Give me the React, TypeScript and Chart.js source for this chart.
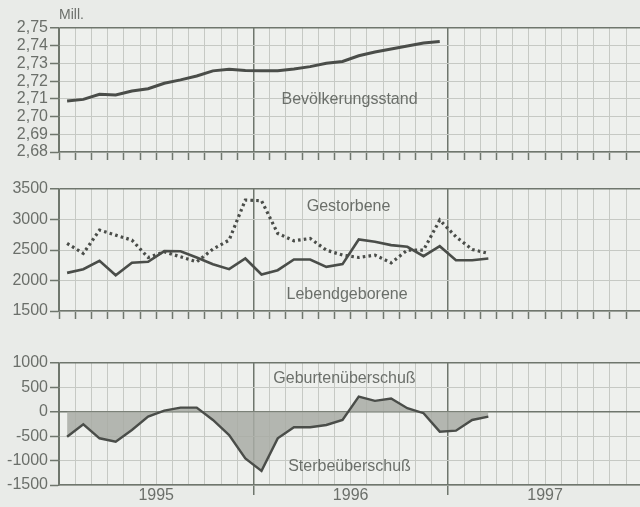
import { useEffect, useRef } from 'react';
import { Chart, registerables } from 'chart.js';

Chart.register(...registerables);

// ---- data ----
const years = ['1995', '1996', '1997'];
const monthsShown = 36; // Jan 1995 .. Dec 1997

// Bevölkerungsstand (Mill.), Jan 1995 - Dec 1996
const population = [
  2.7088, 2.7097, 2.7126, 2.7122, 2.7144, 2.7157, 2.7188, 2.7207, 2.7229, 2.7258, 2.7267, 2.726,
  2.7258, 2.7259, 2.7269, 2.7282, 2.7301, 2.7311, 2.7343, 2.7364, 2.7381, 2.7398, 2.7415, 2.7424,
];

// Lebendgeborene, Jan 1995 - Mar 1997
const births = [
  2125, 2186, 2322, 2087, 2290, 2306, 2481, 2480, 2377, 2268, 2186, 2361,
  2098, 2169, 2344, 2344, 2224, 2268, 2673, 2634, 2580, 2553, 2399, 2563,
  2333, 2333, 2361,
];

// Gestorbene, Jan 1995 - Mar 1997
const deaths = [
  2608, 2444, 2826, 2744, 2662, 2377, 2470, 2388, 2306, 2514, 2662, 3319,
  3308, 2772, 2651, 2690, 2498, 2416, 2377, 2416, 2290, 2498, 2498, 2991,
  2717, 2509, 2444,
];

// Geburten-/Sterbeüberschuß, Jan 1995 - Mar 1997
const surplus = [
  -510, -256, -543, -613, -372, -99, 24, 86, 86, -167, -476, -955,
  -1210, -544, -317, -317, -270, -167, 313, 224, 272, 74, -29, -407,
  -387, -167, -99,
];

const popTicks = [2.68, 2.69, 2.7, 2.71, 2.72, 2.73, 2.74, 2.75];
const vitalTicks = [1500, 2000, 2500, 3000, 3500];
const surplusTicks = [-1500, -1000, -500, 0, 500, 1000];

// ---- styling ----
const FONT = '"Liberation Sans", Arial, Helvetica, sans-serif';
const PAGE_BG = '#e9ebe8';
const PLOT_BG = '#eef0ed';
const TEXT = '#6b6f6a';
const FRAME = '#6f766d';
const GRID = '#c6c9c4';
const LINE = '#4a4d49';
const X_MAX = 35.86; // visible part of the 36-month axis

const toPoints = (arr: number[]) => arr.map((v, i) => ({ x: i + 0.5, y: v }));

type Label = { text: string; x: number; y: number };

const decorPlugin = (labels: Label[], unit?: string) => ({
  id: 'decor',
  beforeDraw(chart: any) {
    const { ctx, chartArea } = chart;
    ctx.save();
    ctx.fillStyle = PLOT_BG;
    ctx.fillRect(chartArea.left, chartArea.top, chartArea.right - chartArea.left, chartArea.bottom - chartArea.top);
    ctx.restore();
  },
  afterDatasetsDraw(chart: any) {
    const { ctx, chartArea, scales } = chart;
    ctx.save();
    ctx.fillStyle = TEXT;
    ctx.font = `16px ${FONT}`;
    ctx.textAlign = 'center';
    ctx.textBaseline = 'alphabetic';
    labels.forEach((l) => {
      ctx.fillText(l.text, scales.x.getPixelForValue(l.x), scales.y.getPixelForValue(l.y));
    });
    if (unit) {
      ctx.font = `14px ${FONT}`;
      ctx.textAlign = 'left';
      ctx.fillText(unit, chartArea.left, chartArea.top - 9);
    }
    ctx.restore();
  },
});

function makeOptions(cfg: {
  ticks: number[];
  fmt: (v: number) => string;
  padTop: number;
  xHeight: number;
  bottomPanel: boolean;
}) {
  const { ticks, fmt, padTop, xHeight, bottomPanel } = cfg;
  const ymin = ticks[0];
  const ymax = ticks[ticks.length - 1];
  const isYear = (v: number) => v === 12 || v === 24;
  const isDarkY = (v: number) => Math.abs(v - ymax) < 1e-9 || (bottomPanel && v === 0);
  return {
    responsive: false,
    animation: false,
    layout: { padding: { top: padTop, left: 0, right: 0, bottom: 0 } },
    plugins: { legend: { display: false }, tooltip: { enabled: false } },
    elements: { point: { radius: 0 }, line: { tension: 0 } },
    scales: {
      x: {
        type: 'linear',
        min: 0,
        max: X_MAX,
        afterBuildTicks: (s: any) => {
          s.ticks = Array.from({ length: monthsShown }, (_, i) => ({ value: i }));
        },
        afterFit: (s: any) => {
          s.height = xHeight;
        },
        border: { display: true, color: FRAME, width: 1.5 },
        grid: {
          color: (c: any) => (c.tick && (isYear(c.tick.value) || c.tick.value === 0) ? FRAME : GRID),
          lineWidth: (c: any) => (c.tick && isYear(c.tick.value) ? 1.5 : 1),
          tickColor: (c: any) =>
            bottomPanel ? (c.tick && isYear(c.tick.value) ? FRAME : 'rgba(0,0,0,0)') : FRAME,
          tickWidth: 1.5,
          tickLength: bottomPanel ? 10 : 8,
        },
        ticks: {
          autoSkip: false,
          maxRotation: 0,
          padding: bottomPanel ? -9 : 0,
          color: TEXT,
          font: { family: FONT, size: 16 },
          callback: (v: any) => {
            if (!bottomPanel) return '';
            const idx = [6, 18, 30].indexOf(v);
            return idx >= 0 ? years[idx] : '';
          },
        },
      },
      y: {
        type: 'linear',
        min: ymin,
        max: ymax,
        afterBuildTicks: (s: any) => {
          s.ticks = ticks.map((v) => ({ value: v }));
        },
        afterFit: (s: any) => {
          s.width = 59;
        },
        border: { display: true, color: FRAME, width: 1.5 },
        grid: {
          color: (c: any) => (c.tick && isDarkY(c.tick.value) ? FRAME : GRID),
          lineWidth: (c: any) => (c.tick && isDarkY(c.tick.value) ? 1.5 : 1),
          tickColor: FRAME,
          tickWidth: 1.5,
          tickLength: 9,
        },
        ticks: {
          autoSkip: false,
          padding: 2,
          color: TEXT,
          font: { family: FONT, size: 16 },
          callback: (v: any) => fmt(Number(v)),
        },
      },
    },
  } as any;
}

function Panel(props: { top: number; height: number; build: () => any }) {
  const ref = useRef<HTMLCanvasElement | null>(null);
  useEffect(() => {
    if (!ref.current) return;
    const chart = new Chart(ref.current, props.build());
    return () => chart.destroy();
  }, []);
  return (
    <canvas
      ref={ref}
      width={640}
      height={props.height}
      style={{ position: 'absolute', left: 0, top: props.top, width: 640, height: props.height }}
    />
  );
}

const buildPopulation = () => ({
  type: 'line',
  data: {
    datasets: [
      {
        data: toPoints(population),
        borderColor: LINE,
        borderWidth: 3,
        fill: false,
      },
    ],
  },
  options: makeOptions({
    ticks: popTicks,
    fmt: (v) => v.toFixed(2).replace('.', ','),
    padTop: 28,
    xHeight: 18,
    bottomPanel: false,
  }),
  plugins: [decorPlugin([{ text: 'Bevölkerungsstand', x: 17.93, y: 2.7071 }], 'Mill.')],
});

const buildVital = () => ({
  type: 'line',
  data: {
    datasets: [
      {
        data: toPoints(deaths),
        borderColor: LINE,
        borderWidth: 3.2,
        borderDash: [2.6, 3.2],
        fill: false,
      },
      {
        data: toPoints(births),
        borderColor: LINE,
        borderWidth: 2.6,
        fill: false,
      },
    ],
  },
  options: makeOptions({
    ticks: vitalTicks,
    fmt: (v) => String(Math.round(v)),
    padTop: 19,
    xHeight: 29,
    bottomPanel: false,
  }),
  plugins: [
    decorPlugin([
      { text: 'Gestorbene', x: 17.87, y: 3147 },
      { text: 'Lebendgeborene', x: 17.78, y: 1701 },
    ]),
  ],
});

const buildSurplus = () => ({
  type: 'line',
  data: {
    datasets: [
      {
        data: toPoints(surplus),
        borderColor: LINE,
        borderWidth: 2.4,
        backgroundColor: 'rgba(168,172,165,0.85)',
        fill: 'origin',
      },
    ],
  },
  options: makeOptions({
    ticks: surplusTicks,
    fmt: (v) => String(Math.round(v)),
    padTop: 23,
    xHeight: 22,
    bottomPanel: true,
  }),
  plugins: [
    decorPlugin([
      { text: 'Geburtenüberschuß', x: 17.62, y: 584 },
      { text: 'Sterbeüberschuß', x: 17.93, y: -1216 },
    ]),
  ],
});

export default function App() {
  return (
    <div
      style={{
        position: 'absolute',
        left: 0,
        top: 0,
        width: 640,
        height: 507,
        background: PAGE_BG,
        overflow: 'hidden',
      }}
    >
      <Panel top={0} height={170} build={buildPopulation} />
      <Panel top={170} height={170} build={buildVital} />
      <Panel top={340} height={167} build={buildSurplus} />
    </div>
  );
}
